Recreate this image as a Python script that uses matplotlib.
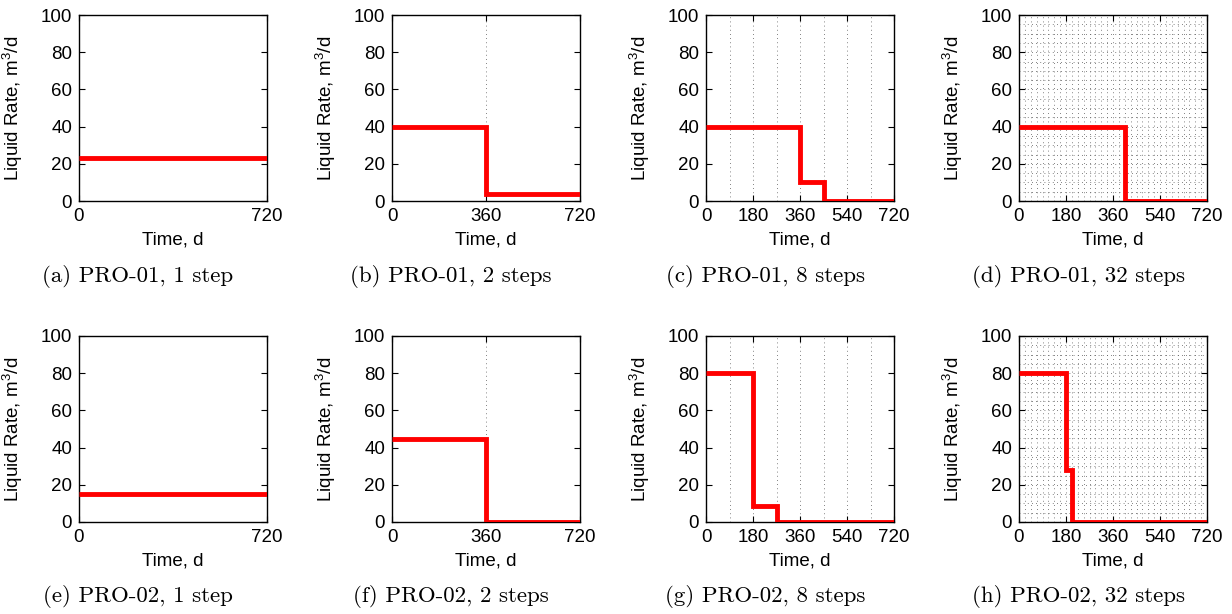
import numpy as np
import matplotlib
matplotlib.use('Agg')
import matplotlib.pyplot as plt

plt.rcParams['font.family'] = ['Liberation Sans', 'DejaVu Sans']
plt.rcParams['mathtext.default'] = 'regular'

# Horizonte de simulação e valores de vazão por passo (m3/d)
horizonte = 720
pro01_1 = [23]
pro01_2 = [40, 3.5]
pro01_8 = [40, 40, 40, 40, 10, 0, 0, 0]
pro01_32 = [40, 40, 40, 40, 40, 40, 40, 40, 40, 40, 40, 40, 40, 40, 40, 40,
            40, 40, 0, 0, 0, 0, 0, 0, 0, 0, 0, 0, 0, 0, 0, 0]
pro02_1 = [15]
pro02_2 = [44.5, 0]
pro02_8 = [80, 80, 8.5, 0, 0, 0, 0, 0]
pro02_32 = [80, 80, 80, 80, 80, 80, 80, 80, 28, 0, 0, 0, 0, 0, 0, 0,
            0, 0, 0, 0, 0, 0, 0, 0, 0, 0, 0, 0, 0, 0, 0, 0]

linhas = [[pro01_1, pro01_2, pro01_8, pro01_32],
          [pro02_1, pro02_2, pro02_8, pro02_32]]
legendas = [['(a) PRO-01, 1 step', '(b) PRO-01, 2 steps',
             '(c) PRO-01, 8 steps', '(d) PRO-01, 32 steps'],
            ['(e) PRO-02, 1 step', '(f) PRO-02, 2 steps',
             '(g) PRO-02, 8 steps', '(h) PRO-02, 32 steps']]
xticks = {1: [0, 720], 2: [0, 360, 720], 8: [0, 180, 360, 540, 720],
          32: [0, 180, 360, 540, 720]}

W, H = 1232, 614
fig = plt.figure(figsize=(W / 100, H / 100), dpi=100)

col_x = [79, 392, 706, 1019]
row_y = [15, 336]
aw, ah = 188, 186
grade = dict(color='0.35', linestyle=(0, (1, 4)), linewidth=0.6)

for i in range(2):
    for j in range(4):
        vals = linhas[i][j]
        n = len(vals)
        bordas = np.linspace(0, horizonte, n + 1)
        ax = fig.add_axes([col_x[j] / W, (H - row_y[i] - ah) / H, aw / W, ah / H])
        ax.stairs(vals, bordas, baseline=None, color='red', linewidth=3.5,
                  zorder=3)
        ax.set_xlim(0, horizonte)
        ax.set_ylim(0, 100)
        ax.set_xticks(xticks[n])
        ax.set_yticks([0, 20, 40, 60, 80, 100])

        # linhas de grade nos instantes de troca
        if n > 1:
            ax.set_xticks(bordas[1:-1], minor=True)
            ax.xaxis.grid(True, which='both', **grade)
        if n == 32:
            ax.set_yticks(np.arange(5, 100, 5), minor=True)
            ax.yaxis.grid(True, which='both', **grade)
        ax.tick_params(which='major', direction='in', top=True, right=True,
                       length=4, width=0.8, labelsize=13.5, pad=5)
        ax.tick_params(which='minor', length=0)
        for s in ax.spines.values():
            s.set_linewidth(1.0)
            s.set_zorder(2.6)

        ax.set_xlabel('Time, d', fontsize=13.5)
        ax.set_ylabel('Liquid Rate, m$^3$/d', fontsize=13.5)
        ax.xaxis.set_label_coords(0.5, -0.165)
        ax.yaxis.set_label_coords(-0.285, 0.5)

        fig.text((col_x[j] + aw / 2 - 35) / W, 1 - (row_y[i] + 261) / H,
                 legendas[i][j], family='cmr10', fontsize=16.5,
                 ha='center', va='center')

fig.savefig('out.png', dpi=100)
